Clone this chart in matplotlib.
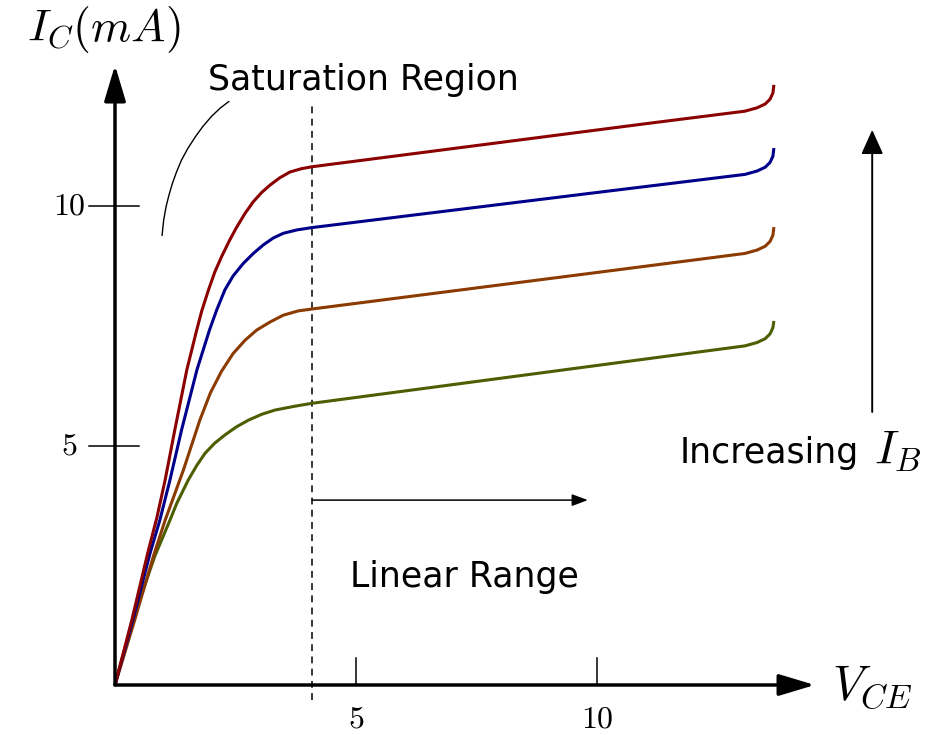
import matplotlib
matplotlib.use("Agg")
import matplotlib.pyplot as plt
from matplotlib.patches import FancyArrowPatch, ArrowStyle

plt.rcParams["mathtext.fontset"] = "cm"
plt.rcParams["font.family"] = ["DejaVu Sans"]

# output curves (V_CE in V, I_C in mA), lowest I_B first
vce_1 = [0, 0.37, 0.83, 1.14, 1.28, 1.52, 1.70, 1.87, 2.07, 2.28, 2.52, 2.77, 3.04, 3.32, 3.73, 4.08,
         11.04, 13.07, 13.32, 13.49, 13.59, 13.65, 13.67]
ic_1 = [0, 1.36, 2.70, 3.44, 3.79, 4.28, 4.59, 4.84, 5.05, 5.22, 5.39, 5.53, 5.65, 5.74, 5.82, 5.88,
        6.81, 7.08, 7.15, 7.23, 7.33, 7.46, 7.60]

vce_2 = [0, 0.41, 0.80, 1.04, 1.42, 1.76, 1.98, 2.21, 2.45, 2.70, 2.94, 3.22, 3.49, 3.80, 4.09,
         10.06, 13.07, 13.32, 13.49, 13.59, 13.65, 13.67]
ic_2 = [0, 1.36, 2.70, 3.44, 4.49, 5.53, 6.10, 6.55, 6.92, 7.20, 7.41, 7.58, 7.72, 7.81, 7.85,
        8.62, 9.01, 9.08, 9.16, 9.26, 9.39, 9.56]

vce_3 = [0, 0.37, 0.73, 0.93, 1.14, 1.38, 1.70, 1.96, 2.11, 2.28, 2.45, 2.66, 2.87, 3.08, 3.28, 3.49,
         3.77, 4.09, 10.06, 13.07, 13.32, 13.49, 13.59, 13.65, 13.67]
ic_3 = [0, 1.36, 2.76, 3.44, 4.28, 5.32, 6.58, 7.41, 7.83, 8.25, 8.54, 8.80, 9.01, 9.19, 9.33, 9.43,
        9.50, 9.55, 10.29, 10.66, 10.73, 10.81, 10.91, 11.04, 11.21]

vce_4 = [0, 0.35, 0.68, 0.87, 1.04, 1.24, 1.49, 1.695, 1.80, 1.94, 2.07, 2.21, 2.37, 2.52, 2.70, 2.87,
         3.04, 3.22, 3.42, 3.63, 3.87, 4.09, 11.10, 13.07, 13.32, 13.49, 13.59, 13.65, 13.67]
ic_4 = [0, 1.36, 2.76, 3.50, 4.28, 5.32, 6.58, 7.41, 7.81, 8.25, 8.62, 8.94, 9.27, 9.55, 9.85, 10.09,
        10.28, 10.44, 10.59, 10.71, 10.78, 10.82, 11.73, 11.98, 12.05, 12.13, 12.23, 12.36, 12.53]

curve_colors = ["#4b5e00", "#8b3a00", "#00008b", "#8b0000"]

x_ticks = [5, 10]
y_ticks = [5, 10]

V_SAT = 4.09          # edge of saturation region
# leader line for "Saturation Region"
sat_x = [0.977, 1.01, 1.06, 1.12, 1.19, 1.28, 1.38, 1.51, 1.67, 1.83, 2.01, 2.19, 2.36]
sat_y = [9.39, 9.71, 9.99, 10.23, 10.47, 10.72, 10.96, 11.20, 11.45, 11.67, 11.88, 12.05, 12.18]

fig = plt.figure(figsize=(9.38, 7.35), dpi=100)
ax = fig.add_axes([0, 0, 1, 1])
ax.set_xlim(-2.386, 17.075)
ax.set_ylim(-1.044, 14.301)
ax.axis("off")

for vx, iy, c in zip([vce_1, vce_2, vce_3, vce_4], [ic_1, ic_2, ic_3, ic_4], curve_colors):
    ax.plot(vx, iy, color=c, lw=2.2, solid_capstyle="butt", solid_joinstyle="round", zorder=3)

# saturation boundary
ax.plot([V_SAT, V_SAT], [-0.31, 12.11], color="black", lw=1.1, dashes=(4.5, 3.5), zorder=2)

# axes with arrows
axis_style = ArrowStyle("-|>", head_length=1.0, head_width=0.3)
for tip in [(0, 12.94), (14.52, 0)]:
    ax.add_patch(FancyArrowPatch((0, 0), tip, arrowstyle=axis_style, mutation_scale=22,
                                 lw=2.5, color="black", shrinkA=0, shrinkB=0, zorder=4))

for t in x_ticks:
    ax.plot([t, t], [0, 0.56], color="black", lw=1.1)
    ax.text(t, -0.38, f"${t}$", ha="center", va="top", fontsize=23)
for t in y_ticks:
    ax.plot([-0.54, 0.50], [t, t], color="black", lw=1.1)
    ax.text(-0.95, t, f"${t}$", ha="center", va="center", fontsize=23)

ax.text(-1.83, 13.45, r"$I_C(mA)$", ha="left", va="baseline", fontsize=33)
ax.text(14.88, -0.31, r"$V_{CE}$", ha="left", va="baseline", fontsize=35)

ax.plot(sat_x, sat_y, color="black", lw=1.0, solid_joinstyle="round")
ax.text(1.93, 12.42, "Saturation Region", ha="left", va="baseline", fontsize=25)

ax.add_patch(FancyArrowPatch((V_SAT, 3.86), (9.81, 3.86),
                             arrowstyle=ArrowStyle("-|>", head_length=0.8, head_width=0.3),
                             mutation_scale=12, lw=1.1, color="black", shrinkA=0, shrinkB=0))
ax.text(4.88, 2.05, "Linear Range", ha="left", va="baseline", fontsize=25)

ax.add_patch(FancyArrowPatch((15.71, 5.70), (15.71, 11.59),
                             arrowstyle=ArrowStyle("-|>", head_length=1.0, head_width=0.45),
                             mutation_scale=15, lw=1.4, color="black", shrinkA=0, shrinkB=0))
ax.text(11.72, 4.63, "Increasing", ha="left", va="baseline", fontsize=25)
ax.text(15.74, 4.63, r"$I_B$", ha="left", va="baseline", fontsize=34)

fig.savefig("out.png", dpi=100)
